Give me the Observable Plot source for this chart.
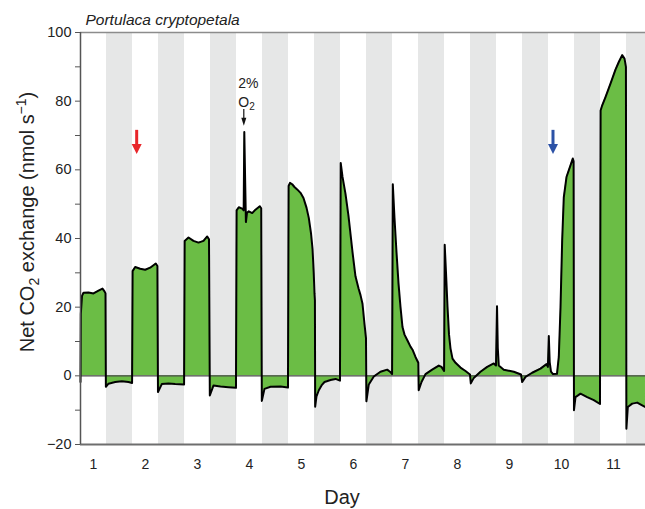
<!DOCTYPE html>
<html>
<head>
<meta charset="utf-8">
<script src="https://cdn.jsdelivr.net/npm/d3@7"></script>
<script src="https://cdn.jsdelivr.net/npm/@observablehq/plot@0.6"></script>
<style>
  html, body { margin: 0; padding: 0; background: white; }
</style>
</head>
<body>
<div id="chart"></div>
<script>
// ---- data (time in days; day n label sits at mid of its light period) ----
const dayTicks = [1, 2, 3, 4, 5, 6, 7, 8, 9, 10, 11];
const nightStarts = [1.25, 2.25, 3.25, 4.25, 5.25, 6.25, 7.25, 8.25, 9.25, 10.25, 11.25];
const yTicks = [-20, -10, 0, 10, 20, 30, 40, 50, 60, 70, 80, 90, 100];

const time = [
  0.75, 0.756, 0.779, 0.808, 0.904, 1.0, 1.096, 1.173, 1.212, 1.231,
  1.238, 1.288, 1.417, 1.544, 1.673, 1.742,
  1.752, 1.802, 1.898, 1.994, 2.09, 2.198, 2.229,
  2.24, 2.313, 2.442, 2.571, 2.742,
  2.753, 2.827, 2.923, 3.019, 3.115, 3.187, 3.221,
  3.237, 3.308, 3.442, 3.596, 3.74,
  3.752, 3.794, 3.86, 3.888, 3.9, 3.915, 3.931, 3.952, 3.987, 4.052, 4.115, 4.198, 4.225,
  4.237, 4.288, 4.404, 4.596, 4.74,
  4.752, 4.779, 4.821, 4.865, 4.917, 4.981, 5.038, 5.096, 5.14, 5.183, 5.212, 5.235, 5.25, 5.258,
  5.263, 5.288, 5.333, 5.385, 5.442, 5.558, 5.654, 5.74,
  5.754, 5.788, 5.846, 5.904, 5.981, 6.038, 6.096, 6.135, 6.173, 6.212, 6.24,
  6.248, 6.294, 6.39, 6.519, 6.648, 6.702, 6.742,
  6.756, 6.788, 6.827, 6.865, 6.904, 6.942, 6.981, 7.038, 7.096, 7.135, 7.192, 7.246,
  7.254, 7.308, 7.385, 7.513, 7.64, 7.692, 7.742,
  7.754, 7.779, 7.808, 7.837, 7.865, 7.904, 7.962, 8.058, 8.154, 8.24,
  8.256, 8.313, 8.442, 8.571, 8.698, 8.74,
  8.76, 8.775, 8.794, 8.89, 9.083, 9.221,
  9.244, 9.308, 9.436, 9.596, 9.712, 9.738,
  9.756, 9.773, 9.798, 9.837, 9.913, 9.948, 9.981, 10.013, 10.044, 10.096, 10.173, 10.217, 10.233,
  10.24, 10.269, 10.365, 10.494, 10.621, 10.74,
  10.752, 10.783, 10.846, 10.942, 11.038, 11.102, 11.167, 11.212, 11.239,
  11.248, 11.275, 11.36, 11.456, 11.552, 11.615
];
const netCO2 = [
  -1.8, 18, 23.3, 24.2, 24.3, 24.0, 24.8, 25.4, 24.6, 24.0,
  -3.2, -2.3, -1.8, -1.6, -1.8, -2.1,
  30.5, 31.7, 31.2, 30.9, 31.5, 32.7, 32.0,
  -4.7, -2.4, -2.2, -2.4, -2.5,
  39.3, 40.3, 39.3, 38.8, 39.3, 40.6, 39.8,
  -5.7, -2.8, -3.1, -3.3, -3.5,
  48.2, 49.1, 48.7, 48.2, 71, 58, 44.8, 47.5, 47.9, 47.4, 48.4, 49.4, 48.8,
  -7.3, -3.8, -3.2, -3.1, -3.4,
  55.3, 56.2, 55.8, 55.0, 54.3, 53.3, 51.8, 49, 46, 41.5, 37, 30, 24, 22,
  -9.0, -6, -4.2, -2.8, -1.8, -1.2, -0.9, -1.4,
  62, 58, 53, 46.5, 36, 29, 25.5, 23.5, 21, 15, 11,
  -7.4, -2.5, -0.2, 1.2, 1.8, 1.2, 0.5,
  55.8, 46, 36, 27, 20, 14.2, 12, 10.3, 8.5, 7.6, 5.5, 3.8,
  -4.2, -1.8, 0.5, 1.8, 3.0, 2.6, 1.4,
  38.2, 30, 20, 12, 8, 5, 3.8, 2.4, 1.4, 0.4,
  -2.2, -0.6, 1.2, 2.6, 3.6, 3.0,
  20.3, 8, 3.0, 1.8, 1.2, 0.4,
  -1.8, -0.3, 0.9, 2.1, 3.4, 2.6,
  11.6, 4, 1.2, 0.5, 0.6, 5.5, 20, 39.5, 52, 57.9, 61.3, 63.3, 62.5,
  -10, -6.2, -5.2, -6.2, -7.1, -8.2,
  77.3, 78.8, 81.2, 85.1, 89.2, 91.4, 93.4, 92.4, 90,
  -15.4, -9.1, -8.1, -7.8, -8.6, -9.1
];

// annotation arrows: [day, top value, tip value]
const lowO2Arrow = [3.9, 77.6, 72.7];
const redArrow = [1.84, 71.5, 64.5];
const blueArrow = [9.846, 71.5, 64.5];
const lowO2Label = [3.9, 85.2, 79.7];

const series = time.map((t, i) => ({t, v: netCO2[i]}));

const green = "#6bbd45";
const font = "'Liberation Sans', Arial, Helvetica, sans-serif";

const plot = Plot.plot({
  width: 645,
  height: 509,
  marginLeft: 80,
  marginRight: 0,
  marginTop: 32,
  marginBottom: 65,
  style: {fontFamily: font, fontSize: "14px", background: "white", color: "#222"},
  x: {domain: [0.75, 0.75 + 565 / 52]},
  y: {domain: [-20, 100]},
  marks: [
    Plot.rect(nightStarts, {x1: d => d, x2: d => d + 0.5, fill: "#e6e7e7", clip: true}),
    Plot.areaY(series, {x: "t", y: "v", fill: green}),
    Plot.ruleY([0], {stroke: "#4a4a4a", strokeWidth: 1.2}),
    Plot.lineY(series, {x: "t", y: "v", stroke: "#000", strokeWidth: 2, strokeLinejoin: "round"}),
    Plot.ruleY([100], {stroke: "#8c8c8c", strokeWidth: 1.5}),
    Plot.ruleY([-20], {stroke: "#6e6e6e", strokeWidth: 2}),
    Plot.ruleX([0.75], {stroke: "#555", strokeWidth: 1.5}),
    Plot.axisY({
      ticks: yTicks, tickSize: 5, tickPadding: 4, label: null, stroke: "#555",
      fontSize: 14.5, fill: "#222",
      tickFormat: d => d % 20 === 0 ? (d < 0 ? "\u2212" + (-d) : String(d)) : ""
    }),
    Plot.axisX({ticks: dayTicks, tickSize: 0, tickPadding: 15, label: null, fontSize: 14, fill: "#222", tickFormat: d => String(d)}),
    Plot.text(["Day"], {frameAnchor: "bottom", dx: -21, dy: 53, fontSize: 20, lineAnchor: "middle", fill: "#222"}),
    Plot.text(["Portulaca cryptopetala"], {frameAnchor: "top-left", dx: 5, dy: -8, lineAnchor: "bottom", textAnchor: "start", fontStyle: "italic", fontSize: 15.5, fill: "#222"})
  ]
});

document.getElementById("chart").appendChild(plot);

// ---- extras drawn through Plot's own scales ----
const sx = plot.scale("x"), sy = plot.scale("y");
const svg = d3.select(plot);
const g = svg.append("g");

function drawArrow([t, vTop, vTip], color, shaftW, headW, headH) {
  const px = sx.apply(t), yTop = sy.apply(vTop), yTip = sy.apply(vTip);
  g.append("line").attr("x1", px).attr("x2", px).attr("y1", yTop).attr("y2", yTip - headH + 1)
    .attr("stroke", color).attr("stroke-width", shaftW);
  g.append("path")
    .attr("d", `M${px - headW / 2},${yTip - headH}L${px + headW / 2},${yTip - headH}L${px},${yTip}Z`)
    .attr("fill", color);
}
drawArrow(redArrow, "#e8262a", 3, 10, 10);
drawArrow(blueArrow, "#2c52a6", 3, 10, 10);
drawArrow(lowO2Arrow, "#111", 1.2, 5, 8);

// "2% O2" label, left-aligned just left of the arrow
const lx = sx.apply(lowO2Label[0]) - 5.5;
g.append("text").attr("x", lx).attr("y", sy.apply(lowO2Label[1])).attr("dy", "0.35em")
  .attr("text-anchor", "start").attr("font-size", 14).attr("font-family", font).attr("fill", "#222")
  .text("2%");
const o2 = g.append("text").attr("x", lx).attr("y", sy.apply(lowO2Label[2])).attr("dy", "0.35em")
  .attr("text-anchor", "start").attr("font-size", 14).attr("font-family", font).attr("fill", "#222");
o2.append("tspan").text("O");
o2.append("tspan").attr("font-size", 10).attr("dy", "0.35em").text("2");

// y-axis label with subscript / superscript
const ylab = svg.append("text")
  .attr("transform", `translate(34, ${(sy.apply(100) + sy.apply(-20)) / 2 - 16}) rotate(-90)`)
  .attr("text-anchor", "middle").attr("font-size", 20).attr("font-family", font).attr("fill", "#222");
ylab.append("tspan").text("Net CO");
ylab.append("tspan").attr("font-size", 14).attr("dy", 5).text("2");
ylab.append("tspan").attr("dy", -5).text(" exchange (nmol s");
ylab.append("tspan").attr("font-size", 14).attr("dy", -8).text("\u22121");
ylab.append("tspan").attr("dy", 8).text(")");
</script>
</body>
</html>
